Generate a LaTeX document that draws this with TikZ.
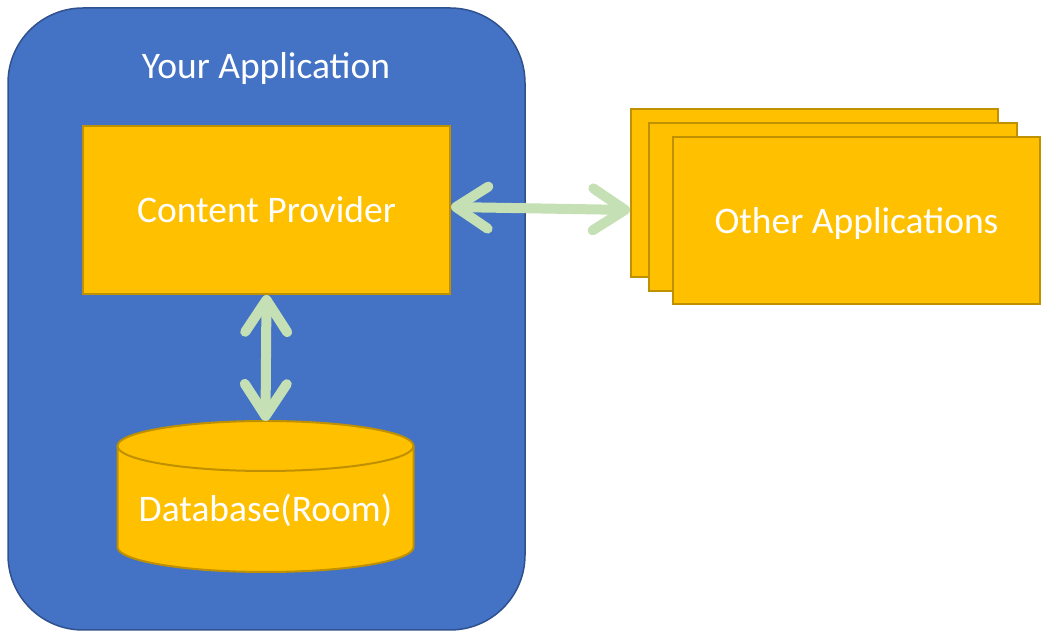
\documentclass[tikz,border=0pt]{standalone}
\usepackage{fontspec}
\setmainfont{Carlito}
\usetikzlibrary{arrows.meta,calc}
\definecolor{appblue}{HTML}{4472C4}
\definecolor{appblueedge}{HTML}{2F528F}
\definecolor{gold}{HTML}{FFC000}
\definecolor{goldedge}{HTML}{BF9000}
\definecolor{arrowgreen}{HTML}{C5E0B4}
\tikzset{
  lbl/.style={text=white,font=\fontsize{37.5}{45}\selectfont},
  goldbox/.style={draw=goldedge,fill=gold,line width=2pt,inner sep=0pt},
  link/.style={draw=arrowgreen,line width=10pt,
    {Straight Barb[length=32pt,width=42pt,round]}-{Straight Barb[length=32pt,width=42pt,round]}}
}
\begin{document}
\begin{tikzpicture}[x=1pt,y=1pt]
\useasboundingbox (0,0) rectangle (1060,644);
% outer application box
\node[draw=appblueedge,fill=appblue,line width=1.5pt,rounded corners=75pt,
  minimum width=517pt,minimum height=622pt,inner sep=0pt] (app) at (266.5,325) {};
\node[lbl,anchor=base] (title) at (266,565) {Your Application};
% content provider
\node[goldbox,lbl,minimum width=367pt,minimum height=168pt] (cp) at (266.5,434) {Content Provider};
% database cylinder
\filldraw[draw=goldedge,fill=gold,line width=2pt]
  (117.5,198) -- (117.5,97) arc[start angle=180,end angle=360,x radius=148pt,y radius=25pt]
  -- (413.5,198) arc[start angle=0,end angle=180,x radius=148pt,y radius=25pt] -- cycle;
\draw[goldedge,line width=2pt] (117.5,198) arc[start angle=180,end angle=360,x radius=148pt,y radius=25pt];
\coordinate (dbtop) at (265.5,223);
\node[lbl] (db) at (265.5,134) {Database(Room)};
% other applications stack
\node[goldbox,minimum width=367pt,minimum height=168pt] (o1) at (814.5,451) {};
\node[goldbox,minimum width=368pt,minimum height=168pt] (o2) at (833,437) {};
\node[goldbox,minimum width=367pt,minimum height=167pt] (o3) at (856.5,423.5) {};
\node[lbl] (oalabel) at (856.5,420) {Other Applications};
% connectors
\draw[link] ([yshift=3pt]cp.east) -- (cp.east -| o1.west);
\draw[link] (cp.south) -- (dbtop);
\end{tikzpicture}
\end{document}
